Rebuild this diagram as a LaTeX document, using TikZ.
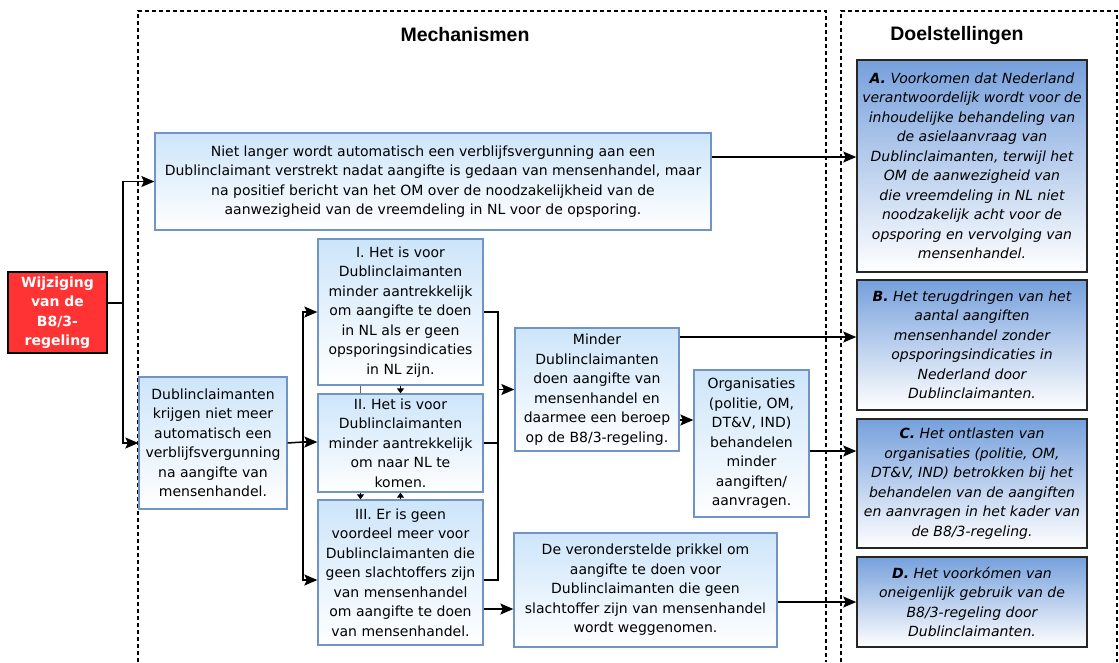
\documentclass[tikz,border=0pt]{standalone}
\usepackage{fontspec}
\setmainfont{DejaVu Sans}
\newfontfamily\kopfont{Liberation Sans}
\usetikzlibrary{arrows.meta}

\definecolor{mechtop}{RGB}{205,229,250}
\definecolor{mechrand}{RGB}{112,148,200}
\definecolor{doeltop}{RGB}{118,160,220}
\definecolor{rood}{RGB}{255,51,51}

\tikzset{
  mech/.style={draw=mechrand, line width=1.3pt, top color=mechtop, bottom color=white,
    align=center, inner sep=0pt, font=\fontsize{14}{19.5}\selectfont},
  doel/.style={draw=black!85, line width=1.5pt, top color=doeltop, bottom color=white,
    align=center, inner sep=0pt, font=\fontsize{14}{19.5}\selectfont\itshape},
  kader/.style={dash pattern=on 4pt off 3pt, line width=1.2pt},
  lijn/.style={line width=1.5pt},
  pijl/.style={line width=1.5pt, -{Stealth[length=13pt,width=11pt,inset=2.5pt]}},
  klein/.style={line width=1pt, -{Triangle[length=5pt,width=7pt]}},
  kop/.style={font=\kopfont\bfseries\fontsize{19.5}{21}\selectfont}
}

\begin{document}
\begin{tikzpicture}[x=1pt,y=-1pt]
\useasboundingbox (0,0) rectangle (1119,662);

%kaders
\draw [kader] (138,662) -- (138,11) -- (826,11) -- (826,662);
\draw [kader] (841,662) -- (841,11) -- (1117,11) -- (1117,662);
\node [kop] (kopmech) at (465,35) {Mechanismen};
\node [kop] (kopdoel) at (957,35) {Doelstellingen};

%wijziging
\node [draw=black, line width=1.5pt, fill=rood, text=white, align=center, inner sep=0pt,
  font=\bfseries\fontsize{14}{19.5}\selectfont, minimum width=99pt, minimum height=81pt]
  (wijziging) at (57.5,312.5) {Wijziging\\van de\\B8/3-\\regeling};

%mechanismen
\node [mech, minimum width=556pt, minimum height=97pt] (nietlanger) at (433,181.5)
  {Niet langer wordt automatisch een verblijfsvergunning aan een\\
   Dublinclaimant verstrekt nadat aangifte is gedaan van mensenhandel, maar\\
   na positief bericht van het OM over de noodzakelijkheid van de\\
   aanwezigheid van de vreemdeling in NL voor de opsporing.};
\node [mech, minimum width=148pt, minimum height=132pt] (dublin) at (213,443)
  {Dublinclaimanten\\krijgen niet meer\\automatisch een\\verblijfsvergunning\\na aangifte van\\mensenhandel.};
\node [mech, minimum width=165pt, minimum height=146pt] (mechI) at (400.5,312)
  {I. Het is voor\\Dublinclaimanten\\minder aantrekkelijk\\om aangifte te doen\\in NL als er geen\\opsporingsindicaties\\in NL zijn.};
\node [mech, minimum width=165pt, minimum height=98pt] (mechII) at (400.5,443)
  {II. Het is voor\\Dublinclaimanten\\minder aantrekkelijk\\om naar NL te\\komen.};
\node [mech, minimum width=165pt, minimum height=145pt] (mechIII) at (400.5,572.5)
  {III. Er is geen\\voordeel meer voor\\Dublinclaimanten die\\geen slachtoffers zijn\\van mensenhandel\\om aangifte te doen\\van mensenhandel.};
\node [mech, minimum width=164pt, minimum height=123pt] (minder) at (597,389.5)
  {Minder\\Dublinclaimanten\\doen aangifte van\\mensenhandel en\\daarmee een beroep\\op de B8/3-regeling.};
\node [mech, minimum width=115pt, minimum height=147pt] (organisaties) at (751.5,443.5)
  {Organisaties\\(politie, OM,\\DT\&V, IND)\\behandelen\\minder\\aangiften/\\aanvragen.};
\node [mech, minimum width=263pt, minimum height=114pt] (prikkel) at (645.5,590)
  {De veronderstelde prikkel om\\aangifte te doen voor\\Dublinclaimanten die geen\\slachtoffer zijn van mensenhandel\\wordt weggenomen.};

%doelstellingen
\node [doel, minimum width=230pt, minimum height=212pt] (doelA) at (972,166)
  {\textbf{A.} Voorkomen dat Nederland\\verantwoordelijk wordt voor de\\inhoudelijke behandeling van\\de asielaanvraag van\\Dublinclaimanten, terwijl het\\OM de aanwezigheid van\\die vreemdeling in NL niet\\noodzakelijk acht voor de\\opsporing en vervolging van\\mensenhandel.};
\node [doel, minimum width=230pt, minimum height=130pt] (doelB) at (972,345)
  {\textbf{B.} Het terugdringen van het\\aantal aangiften\\mensenhandel zonder\\opsporingsindicaties in\\Nederland door\\Dublinclaimanten.};
\node [doel, minimum width=230pt, minimum height=129pt] (doelC) at (972,483.5)
  {\textbf{C.} Het ontlasten van\\organisaties (politie, OM,\\DT\&V, IND) betrokken bij het\\behandelen van de aangiften\\en aanvragen in het kader van\\de B8/3-regeling.};
\node [doel, minimum width=230pt, minimum height=90pt] (doelD) at (972,602)
  {\textbf{D.} Het voorkómen van\\oneigenlijk gebruik van de\\B8/3-regeling door\\Dublinclaimanten.};

%vertakkingen
\coordinate (tak1) at (123,303);
\coordinate (tak2) at (303,442);
\coordinate (samen) at (498,389.5);
\draw [lijn] ([yshift=9.5]wijziging.east) -- (tak1);
\draw [pijl] (tak1) |- (nietlanger.west);
\draw [pijl] (tak1) |- (dublin.west);
\draw [lijn] (dublin.east) -- (tak2);
\draw [pijl] (tak2) |- (mechI.west);
\draw [pijl] (tak2) -- (tak2 -| mechII.west);
\draw [pijl] (tak2) |- ([yshift=-7.5]mechIII.west);
\draw [lijn] (mechI.east) -| (samen);
\draw [lijn] (mechII.east) -| (samen);
\draw [lijn] ([yshift=-7.5]mechIII.east) -| (samen);
\draw [pijl] (samen) -- (minder.west);

%tussen I, II en III
\draw [line width=1pt, black!60] ([xshift=-40]mechI.south) -- ([xshift=-40]mechII.north);
\draw [klein] (mechI.south) -- (mechII.north);
\draw [klein] ([xshift=-40]mechII.south) -- ([xshift=-40]mechIII.north);
\draw [klein] (mechIII.north) -- (mechII.south);

%naar rechts
\draw [pijl] ([yshift=-30.5]minder.east) -- ([yshift=-30.5]minder.east -| organisaties.west);
\draw [pijl] ([yshift=-36.5]mechIII.east) -- ([yshift=-36.5]mechIII.east -| prikkel.west);
\draw [pijl] ([yshift=24.5]nietlanger.east) -- ([yshift=24.5]nietlanger.east -| doelA.west);
\draw [pijl] ([yshift=52.5]minder.east) -- ([yshift=52.5]minder.east -| doelB.west);
\draw [pijl] ([yshift=-7.5]organisaties.east) -- ([yshift=-7.5]organisaties.east -| doelC.west);
\draw [pijl] (prikkel.east |- doelD.west) -- (doelD.west);

\end{tikzpicture}
\end{document}
